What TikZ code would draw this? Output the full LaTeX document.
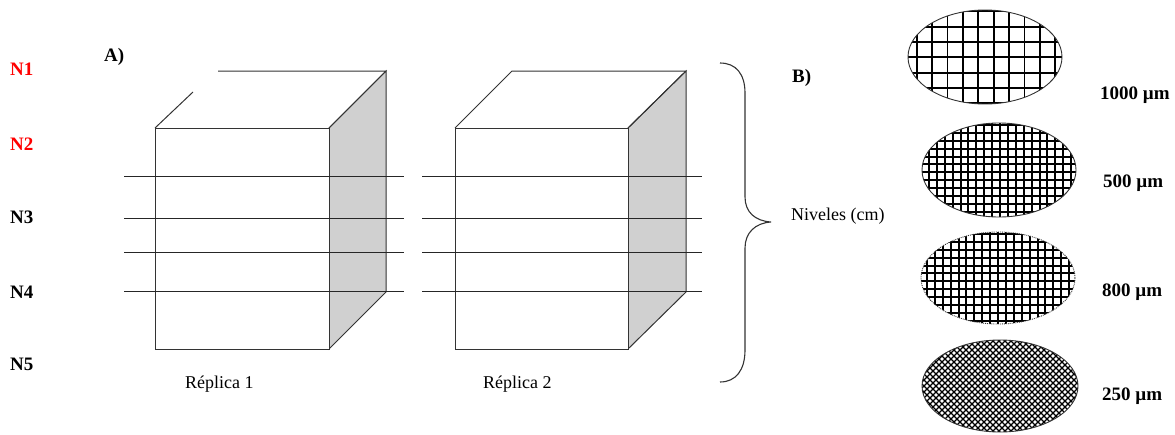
\documentclass[tikz,border=0pt]{standalone}
\usepackage{fontspec}
\setmainfont{Liberation Serif}
\begin{document}
\begin{tikzpicture}[x=1pt,y=-1pt,
  edge/.style={draw=black!80,line width=1pt},
  face/.style={edge,fill=white},
  sideface/.style={edge,fill=sidegray},
  level/.style={draw=black!85,line width=1pt},
  lvl/.style={anchor=base west,inner sep=0pt,font=\fontsize{19}{21}\selectfont\bfseries},
  tag/.style={anchor=base west,inner sep=0pt,font=\fontsize{19}{21}\selectfont\bfseries},
  plain/.style={anchor=base west,inner sep=0pt,font=\fontsize{18}{21}\selectfont},
  coarse/.style={draw=black,line width=1.9pt},
  fine/.style={draw=black,line width=2pt},
  hatch/.style={draw=black,line width=1.2pt},
  rim/.style={draw=black!80,line width=0.9pt}]
\definecolor{sidegray}{RGB}{208,208,208}
\definecolor{levred}{RGB}{255,0,0}
\useasboundingbox (0,0) rectangle (1175,434);

% level labels
\node[lvl,text=levred] (n1) at (10,75) {N1};
\node[lvl,text=levred] (n2) at (10,150) {N2};
\node[lvl] (n3) at (10,223) {N3};
\node[lvl] (n4) at (10,298) {N4};
\node[lvl] (n5) at (10,370) {N5};
\node[tag] (pa) at (104,61) {A)};
\node[tag] (pb) at (792,82) {B)};

% first replicate block (top-left back edge interrupted)
\path[sideface] (329,128) -- (386,71) -- (386,292) -- (329,349) -- cycle;
\path[face] (155,128) rectangle (329,349);
\draw[edge] (155,128) -- (193,92);
\draw[edge] (218,71) -- (386,71) -- (329,128);
% second replicate block
\path[sideface] (628,128) -- (686,71) -- (686,292) -- (628,349) -- cycle;
\path[face] (455,128) rectangle (628,349);
\draw[edge] (455,128) -- (512,71) -- (686,71) -- (628,128);

% sampling depths through both blocks
\foreach \y in {176,218,252,291} {
  \draw[level] (124,\y) -- (404,\y);
  \draw[level] (422,\y) -- (702,\y);
}

\node[plain] (r1) at (185,388) {Réplica 1};
\node[plain] (r2) at (483,388) {Réplica 2};

% brace grouping the levels
\node[plain] (niv) at (791,220) {Niveles (cm)};
\draw[edge,line width=1.1pt] (720,63) .. controls (736,63) and (745,74) .. (745,93)
  -- (745,197) .. controls (745,212) and (755,221) .. (771,222)
  .. controls (755,223) and (745,233) .. (745,248)
  -- (745,350) .. controls (745,370) and (736,382) .. (720,382);

% sieve meshes
\begin{scope}
  \clip (985,57) ellipse [x radius=77,y radius=47];
  \foreach \i in {-1,...,11} \draw[coarse] ({916.7+15.4*\i},0) -- ++(0,120);
  \foreach \i in {-2,...,6} \draw[coarse] (900,{26.7+15.3*\i}) -- ++(180,0);
\end{scope}
\draw[rim] (985,57) ellipse [x radius=77,y radius=47];

\begin{scope}
  \clip (999,170) ellipse [x radius=77,y radius=47];
  \foreach \i in {0,...,22} \draw[fine] ({921+7.9*\i},110) -- ++(0,120);
  \foreach \i in {0,...,14} \draw[fine] (915,{117+7.9*\i}) -- ++(170,0);
\end{scope}
\draw[rim] (999,170) ellipse [x radius=77,y radius=47];

\begin{scope}
  \clip (998,278) ellipse [x radius=77,y radius=46];
  \foreach \i in {0,...,22} \draw[fine] ({919+7.9*\i},225) -- ++(0,120);
  \foreach \i in {0,...,14} \draw[fine] (915,{226+7.9*\i}) -- ++(170,0);
\end{scope}
\draw[rim,densely dotted] (998,278) ellipse [x radius=77,y radius=46];

\begin{scope}
  \clip (1000,386) ellipse [x radius=78,y radius=46];
  \foreach \i in {0,...,45} {
    \draw[hatch] ({820+6*\i},330) -- ++(110,110);
    \draw[hatch] ({920+6*\i},330) -- ++(-110,110);
  }
\end{scope}
\draw[rim] (1000,386) ellipse [x radius=78,y radius=46];

\node[tag] (m1) at (1100,99) {1000 µm};
\node[tag] (m2) at (1103,187) {500 µm};
\node[tag] (m3) at (1102,296) {800 µm};
\node[tag] (m4) at (1102,400) {250 µm};
\end{tikzpicture}
\end{document}
